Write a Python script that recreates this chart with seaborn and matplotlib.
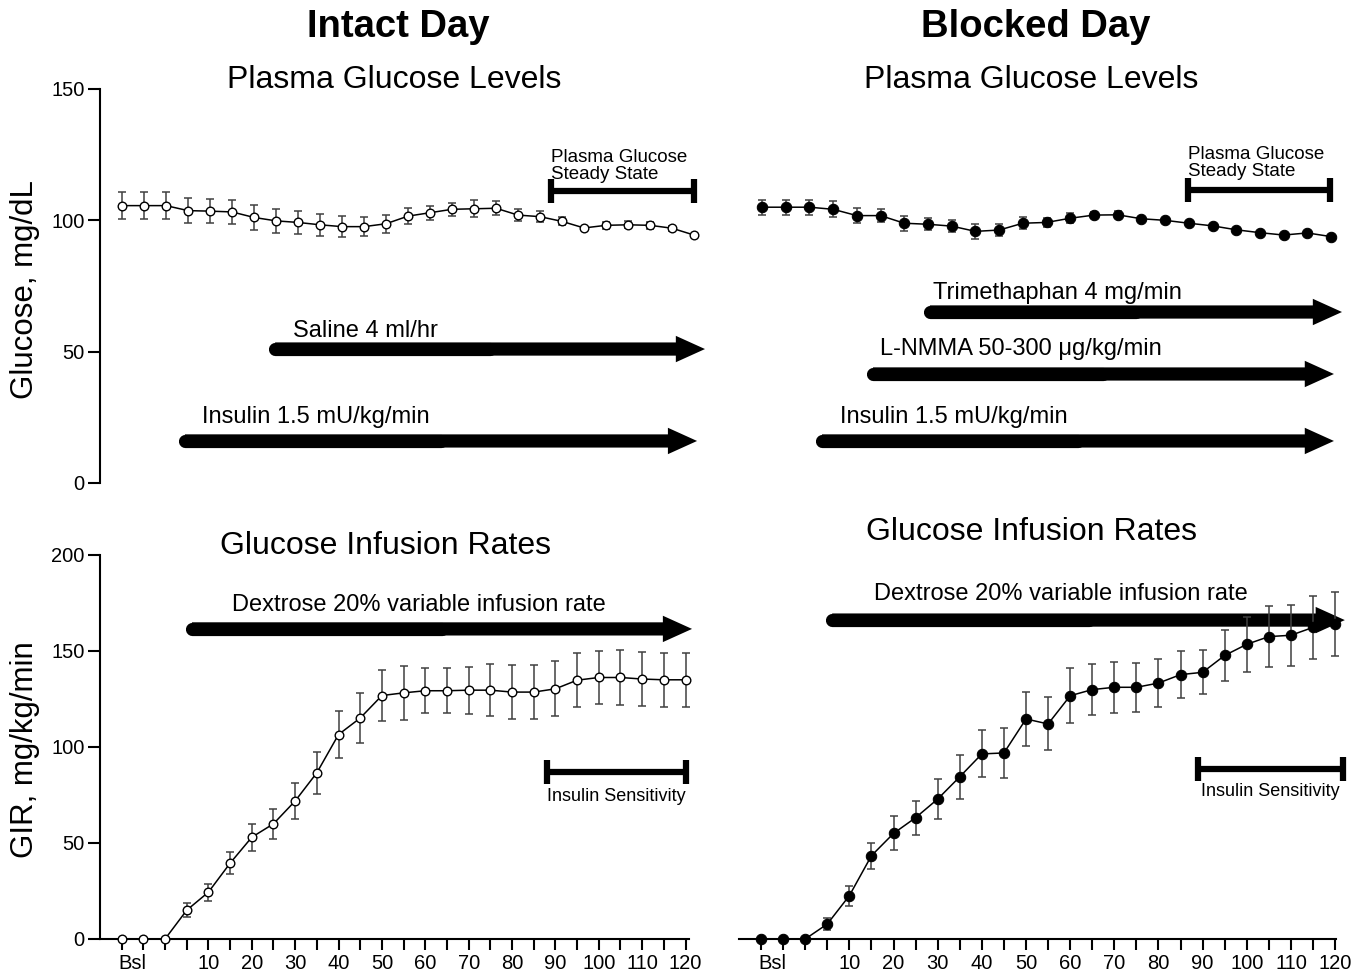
import numpy as np
import pandas as pd
import matplotlib
matplotlib.use("Agg")
import matplotlib.pyplot as plt
import seaborn as sns
from matplotlib.patches import FancyArrowPatch, ArrowStyle

# ---------------- data ----------------
time_intact = [-10, -5, 0, 5, 10, 15, 20, 25, 30, 35, 40, 45, 50, 55, 60,
               65, 70, 75, 80, 85, 90, 95, 100, 105, 110, 115, 120]
glucose_intact = [105.6, 105.6, 105.6, 103.7, 103.5, 103.2, 101.1, 99.8, 99.2,
                  98.3, 97.6, 97.6, 98.7, 101.6, 102.9, 104.2, 104.4, 104.6,
                  102.0, 101.4, 99.6, 97.1, 98.1, 98.3, 98.1, 97.0, 94.4]
glucose_intact_sem = [5.1, 5.1, 5.1, 4.8, 4.6, 4.6, 4.6, 4.5, 4.5, 4.1, 3.9,
                      3.7, 3.5, 3.1, 2.7, 2.5, 3.2, 2.7, 2.4, 2.2, 1.5, 0.4,
                      1.4, 1.4, 1.3, 0.9, 0.4]

time_blocked_glu = [-10, -5, 0, 5, 10, 15, 20, 25, 30, 35, 40, 45, 50, 55,
                    60, 65, 70, 75, 80, 85, 90, 95, 100, 105, 110]
glucose_blocked = [105.0, 105.0, 105.0, 104.2, 101.8, 101.8, 98.9, 98.5, 97.8,
                   95.8, 96.3, 98.9, 99.2, 100.8, 102.0, 102.1, 100.6, 100.0,
                   98.9, 97.9, 96.4, 95.3, 94.4, 95.2, 93.8]
glucose_blocked_sem = [2.9, 2.9, 2.9, 3.0, 3.0, 2.5, 2.9, 2.2, 2.3, 2.9, 2.2,
                       2.3, 1.8, 2.0, 1.3, 1.3, 0, 0, 0, 0, 0, 0, 0, 0, 0]

time_gir = [-10, -5, 0, 5, 10, 15, 20, 25, 30, 35, 40, 45, 50, 55, 60,
            65, 70, 75, 80, 85, 90, 95, 100, 105, 110, 115, 120]
gir_intact = [0, 0, 0, 15.0, 24.4, 39.5, 53.0, 60.0, 71.9, 86.6, 106.5, 115.1,
              126.8, 128.2, 129.3, 129.3, 129.6, 129.6, 128.6, 128.6, 130.3,
              134.8, 136.2, 136.2, 135.4, 135.0, 135.0]
gir_intact_sem = [0, 0, 0, 3.7, 4.5, 5.7, 7.0, 7.7, 9.2, 11.0, 12.4, 12.8, 13.1,
                  14.2, 11.6, 11.7, 12.3, 13.7, 14.2, 14.0, 14.3, 13.9, 14.0,
                  14.1, 14.1, 14.0, 14.0]
gir_blocked = [0, 0, 0, 7.8, 22.6, 43.4, 55.0, 63.2, 72.9, 84.5, 96.4, 96.9,
               114.6, 112.0, 126.7, 129.9, 131.1, 131.1, 133.3, 137.7, 138.9,
               147.7, 153.5, 157.5, 158.2, 162.3, 164.1]
gir_blocked_sem = [0, 0, 0, 3.0, 5.2, 6.8, 8.9, 8.8, 10.5, 11.5, 12.2, 13.0,
                   14.1, 13.8, 14.4, 13.4, 13.2, 12.7, 12.7, 12.4, 11.5, 13.1,
                   14.2, 15.8, 15.8, 16.6, 16.8]

x_ticks = [-10, -5, 0, 5, 10, 15, 20, 25, 30, 35, 40, 45, 50, 55, 60, 65, 70,
           75, 80, 85, 90, 95, 100, 105, 110, 115, 120]
x_tick_labels = ["" if (t <= 0 or t % 10) else str(t) for t in x_ticks]
glucose_ticks = [0, 50, 100, 150]
gir_ticks = [0, 50, 100, 150, 200]

# ---------------- style ----------------
sns.set_theme(style="ticks")
plt.rcParams["font.family"] = ["Liberation Sans", "DejaVu Sans"]
plt.rcParams["axes.linewidth"] = 1.5
plt.rcParams["text.color"] = "black"
plt.rcParams["axes.labelcolor"] = "black"
plt.rcParams["axes.edgecolor"] = "black"
plt.rcParams["xtick.color"] = "black"
plt.rcParams["ytick.color"] = "black"

W, H = 1371, 977
fig = plt.figure(figsize=(W / 100, H / 100), dpi=100)
fig.patch.set_facecolor("white")


def rect(x0, x1, y0, y1):
    return [x0 / W, 1 - y1 / H, (x1 - x0) / W, (y1 - y0) / H]


ax_tl = fig.add_axes(rect(100, 705, 89, 483))
ax_tr = fig.add_axes(rect(740, 1342, 89, 483))
ax_bl = fig.add_axes(rect(100, 689, 555, 939))
ax_br = fig.add_axes(rect(739, 1336, 555, 939))
for a in (ax_tl, ax_tr, ax_bl, ax_br):
    a.set_facecolor("white")


def series(ax, t, v, e, filled):
    df = pd.DataFrame({"t": t, "v": v})
    ax.errorbar(t, v, yerr=e, fmt="none", ecolor="#404040", elinewidth=1.1,
                capsize=3.2, capthick=1.1, zorder=2, clip_on=False)
    if filled:
        sns.lineplot(data=df, x="t", y="v", ax=ax, color="black", lw=1.1,
                     marker="o", markersize=7.5, markerfacecolor="black",
                     markeredgecolor="black", errorbar=None, clip_on=False,
                     zorder=3)
    else:
        sns.lineplot(data=df, x="t", y="v", ax=ax, color="black", lw=1.1,
                     marker="o", markersize=6.2, markerfacecolor="white",
                     markeredgecolor="black", markeredgewidth=1.0,
                     errorbar=None, clip_on=False, zorder=3)
    ax.set_xlabel("")
    ax.set_ylabel("")


def arrow(ax, x0, x1, y, label, tx, ty):
    ax.plot([x0, (x0 + x1) / 2], [y, y], color="black", lw=9.5,
            solid_capstyle="round", clip_on=False, zorder=1)
    p = FancyArrowPatch((x0, y), (x1, y),
                        arrowstyle=ArrowStyle.Simple(head_length=21,
                                                     head_width=19,
                                                     tail_width=9.5),
                        mutation_scale=1, color="black", lw=0,
                        shrinkA=0, shrinkB=0, clip_on=False, zorder=1)
    ax.add_patch(p)
    ax.text(tx, ty, label, ha="left", va="center", fontsize=17)


def bar(ax, x0, x1, y):
    ax.plot([x0, x1], [y, y], color="black", lw=4.5, marker="|", ms=17,
            mew=4.5, clip_on=False, zorder=1, solid_capstyle="butt")


# ---------------- top left: intact glucose ----------------
series(ax_tl, time_intact, glucose_intact, glucose_intact_sem, False)
arrow(ax_tl, 24.8, 122.5, 51.0, "Saline 4 ml/hr", 28.9, 58.0)
arrow(ax_tl, 4.3, 120.7, 16.0, "Insulin 1.5 mU/kg/min", 8.2, 25.3)
bar(ax_tl, 87.5, 120.0, 111.2)
ax_tl.text(87.5, 120.7, "Plasma Glucose\nSteady State", ha="left",
           va="center", fontsize=13.5, linespacing=0.95)
ax_tl.set_xlim(-15, 122.5)
ax_tl.set_ylim(0, 150)
ax_tl.set_yticks(glucose_ticks)
ax_tl.set_xticks([])
sns.despine(ax=ax_tl, bottom=True)
ax_tl.tick_params(axis="y", length=9, width=1.5, labelsize=14.5, pad=2,
                  colors="black")

# ---------------- top right: blocked glucose ----------------
series(ax_tr, time_blocked_glu, glucose_blocked, glucose_blocked_sem, True)
arrow(ax_tr, 25.4, 112.3, 65.1, "Trimethaphan 4 mg/min", 26.1, 72.5)
arrow(ax_tr, 13.4, 110.6, 41.5, "L-NMMA 50-300 \u03bcg/kg/min", 14.9, 51.2)
arrow(ax_tr, 2.65, 110.6, 16.0, "Insulin 1.5 mU/kg/min", 6.4, 25.3)
bar(ax_tr, 79.8, 109.8, 111.5)
ax_tr.text(79.8, 121.8, "Plasma Glucose\nSteady State", ha="left",
           va="center", fontsize=13.5, linespacing=0.95)
ax_tr.set_xlim(-14.64, 112.3)
ax_tr.set_ylim(0, 150)
ax_tr.set_axis_off()

# ---------------- bottom left: intact GIR ----------------
series(ax_bl, time_gir, gir_intact, gir_intact_sem, False)
arrow(ax_bl, 6.2, 121.5, 161.5, "Dextrose 20% variable infusion rate", 15.4, 174.0)
bar(ax_bl, 88.1, 120.1, 87.0)
ax_bl.text(104.1, 74.0, "Insulin Sensitivity", ha="center", va="center",
           fontsize=13)
ax_bl.set_xlim(-15, 120.8)
ax_bl.set_ylim(0, 200)
ax_bl.set_yticks(gir_ticks)
sns.despine(ax=ax_bl)

# ---------------- bottom right: blocked GIR ----------------
series(ax_br, time_gir, gir_blocked, gir_blocked_sem, True)
arrow(ax_br, 6.1, 122.2, 166.1, "Dextrose 20% variable infusion rate", 15.6, 179.7)
bar(ax_br, 88.9, 121.7, 88.5)
ax_br.text(105.3, 76.6, "Insulin Sensitivity", ha="center", va="center",
           fontsize=13)
ax_br.set_xlim(-15, 120.2)
ax_br.set_ylim(0, 200)
ax_br.set_yticks([])
sns.despine(ax=ax_br, left=True)

for a in (ax_bl, ax_br):
    a.set_xticks(x_ticks, x_tick_labels)
    a.set_xticks([-7.5], ["Bsl"], minor=True)
    a.tick_params(axis="x", which="major", length=8, width=1.5,
                  labelsize=14.5, pad=3, colors="black")
    a.tick_params(axis="x", which="minor", length=8, width=0,
                  labelsize=14.5, pad=3, colors="black")
ax_bl.tick_params(axis="y", length=9, width=1.5, labelsize=14.5, pad=2,
                  colors="black")

# ---------------- titles & labels ----------------
fig.text(398 / W, 1 - 27 / H, "Intact Day", ha="center", va="center",
         fontsize=27.5, fontweight="bold")
fig.text(1036 / W, 1 - 27 / H, "Blocked Day", ha="center", va="center",
         fontsize=27.5, fontweight="bold")
fig.text(394 / W, 1 - 80 / H, "Plasma Glucose Levels", ha="center",
         va="center", fontsize=23)
fig.text(1031 / W, 1 - 80 / H, "Plasma Glucose Levels", ha="center",
         va="center", fontsize=23)
fig.text(386 / W, 1 - 546 / H, "Glucose Infusion Rates", ha="center",
         va="center", fontsize=23)
fig.text(1032 / W, 1 - 532 / H, "Glucose Infusion Rates", ha="center",
         va="center", fontsize=23)
fig.text(25 / W, 1 - 290 / H, "Glucose, mg/dL", ha="center", va="center",
         rotation=90, fontsize=22.5)
fig.text(25 / W, 1 - 750 / H, "GIR, mg/kg/min", ha="center", va="center",
         rotation=90, fontsize=22.5)

fig.savefig("out.png", dpi=100, facecolor="white")
